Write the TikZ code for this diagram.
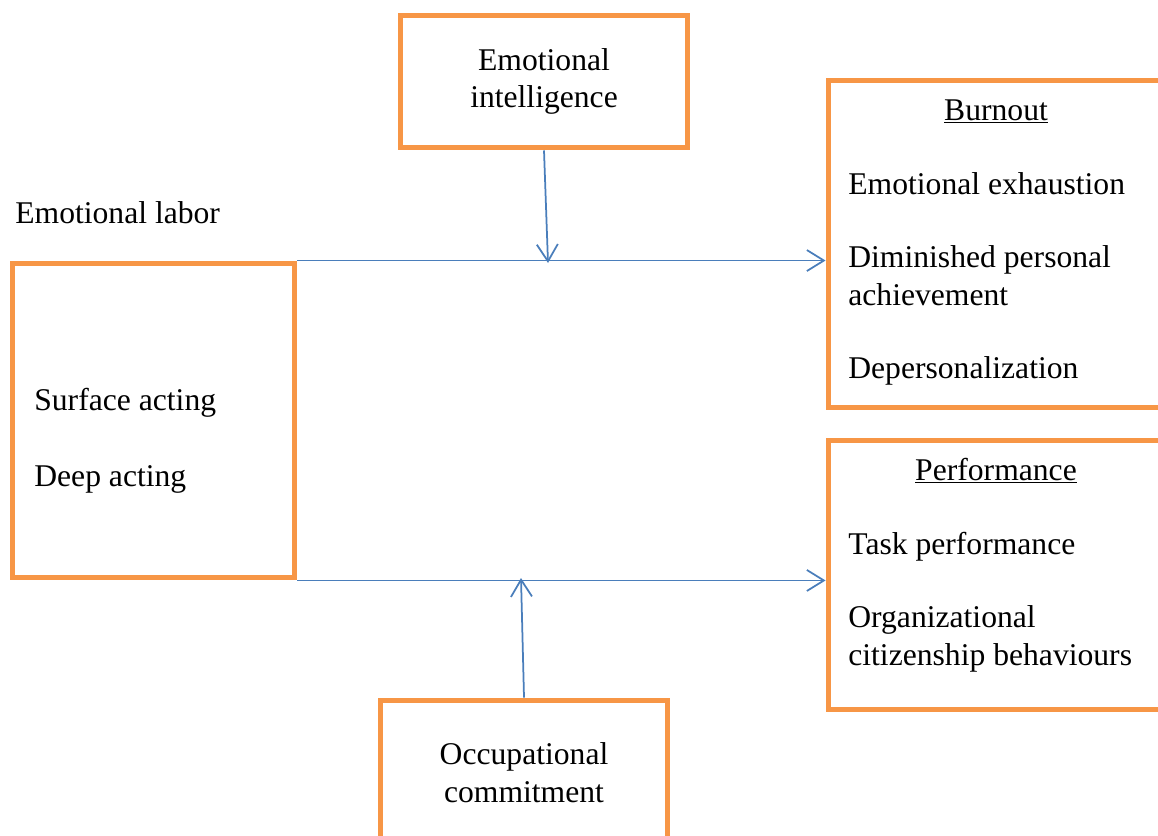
\documentclass[tikz,border=0pt]{standalone}
\usepackage{fontspec}
\setmainfont{Liberation Serif}
\usetikzlibrary{arrows.meta}
\definecolor{boxorange}{HTML}{F79646}
\definecolor{lineblue}{HTML}{4A7EBB}
\tikzset{
  box/.style={draw=boxorange, line width=0.1cm, inner sep=0pt, align=center},
  txt/.style={anchor=base west, align=left, inner sep=0pt},
  link/.style={draw=lineblue, line width=0.035cm, -{Straight Barb[length=0.34cm,width=0.42cm]}}
}
\begin{document}
\begin{tikzpicture}[x=0.02cm,y=-0.02cm,font=\fontsize{18}{21.5}\selectfont]
    \useasboundingbox (0,0) rectangle (1158,835);
    \clip (0,0) rectangle (1158,835);

    %boxes
    \node[box, minimum width=5.76cm, minimum height=2.66cm] (ei) at (544,81.5) {Emotional\\intelligence};
    \node[box, minimum width=5.66cm, minimum height=6.3cm] (labor) at (153.5,420.5) {};
    \node[box, minimum width=7.04cm, minimum height=6.56cm] (burnout) at (1004,244) {};
    \node[box, minimum width=7.04cm, minimum height=5.4cm] (perf) at (1004,575) {};
    \node[box, minimum width=5.76cm, minimum height=2.9cm] (occ) at (524,772.5) {Occupational\\commitment};

    %texts (multi-line ones sit on their last line)
    \node[txt] (lablabel) at (15,223) {Emotional labor};
    \node[txt] (surface) at (34,410) {Surface acting};
    \node[txt] (deep) at (34,486) {Deep acting};
    \node[anchor=base, inner sep=0pt] (burntitle) at (996,120) {\underline{Burnout}};
    \node[txt] (exhaust) at (848,194) {Emotional exhaustion};
    \node[txt] (dimin) at (848,305) {Diminished personal\\achievement};
    \node[txt] (deper) at (848,378) {Depersonalization};
    \node[anchor=base, inner sep=0pt] (perftitle) at (996,480) {\underline{Performance}};
    \node[txt] (task) at (848,554) {Task performance};
    \node[txt] (ocb) at (848,665) {Organizational\\citizenship behaviours};

    %links
    \coordinate (eimid) at (548,263);
    \coordinate (occmid) at (521,578);
    \draw[link] (labor.north east) -- (labor.north east -| burnout.west);
    \draw[link] (labor.south east) -- (labor.south east -| perf.west);
    \draw[link] (ei.south) -- (eimid);
    \draw[link] (occ.north) -- (occmid);
\end{tikzpicture}
\end{document}
